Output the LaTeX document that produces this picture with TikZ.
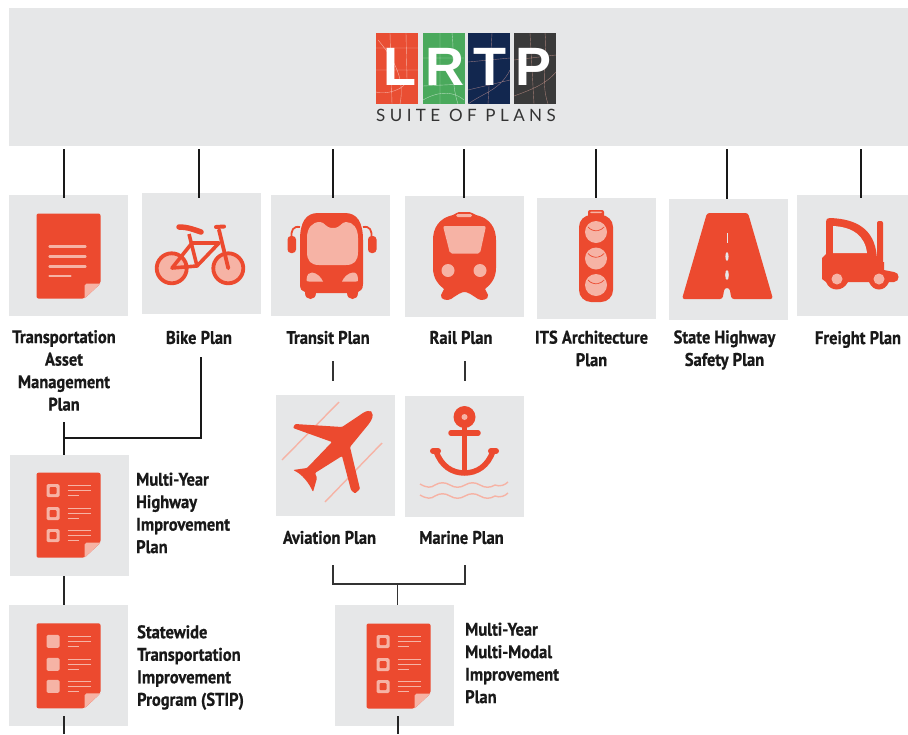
\documentclass[tikz,border=0pt]{standalone}
\usepackage{fontspec}
\setmainfont{Liberation Sans}
\newfontfamily\labfont[FakeStretch=0.9,FakeBold=0.7]{PT Sans Bold}
\newfontfamily\suitefont[LetterSpace=26]{Lato}
\usetikzlibrary{calc}
\definecolor{tilegray}{HTML}{E6E7E8}
\definecolor{iconred}{HTML}{EC4A2F}
\definecolor{iconpink}{HTML}{F6B3A5}
\definecolor{logored}{HTML}{E94E33}
\definecolor{logogreen}{HTML}{4AA95C}
\definecolor{logonavy}{HTML}{12274F}
\definecolor{logodark}{HTML}{3A3A3A}
\tikzset{
  tile/.style={fill=tilegray,draw=none,inner sep=0pt,outer sep=0pt,minimum width=119pt,minimum height=121pt,anchor=north west},
  lab/.style={font=\labfont\fontsize{18.3}{22.5}\selectfont,inner sep=0pt,text=black!90},
  labc/.style={lab,align=center},
  labl/.style={lab,align=left,anchor=west},
  heavy/.style={draw=black!90,line width=2.8pt},
  medium/.style={draw=black!85,line width=2pt},
  light/.style={draw=black!80,line width=1.6pt},
  logobox/.style={inner sep=0pt,outer sep=0pt,minimum width=42pt,minimum height=71.5pt,anchor=north west},
  logoletter/.style={font=\bfseries\fontsize{54}{54}\selectfont,text=white,inner sep=0pt},
  mapline/.style={line width=0.4pt,opacity=0.55},
  red/.style={fill=iconred,draw=none},
  pink/.style={fill=iconpink,draw=none},
  pinkline/.style={draw=iconpink,line width=1.4pt},
}
% document page outline with folded corner, origin at top-left
\newcommand{\pagebase}{%
  \fill[iconred,rounded corners=2pt] (0,0) -- (64,0) -- (64,70) -- (48,85) -- (0,85) -- cycle;
  \fill[iconpink] (64,70) -- (48,85) -- (48,72) -- (50,70) -- cycle;
}
\newcommand{\textpage}[2]{\begin{scope}[shift={(#1,#2)}]
  \pagebase
  \foreach \yy/\xx in {33/49,43/49,53/49,62.5/34}
    \draw[iconpink,line width=2.4pt,line cap=round] (13,\yy) -- (\xx,\yy);
\end{scope}}
% list lines: three rows
\newcommand{\listlines}[1]{%
  \draw[iconpink,line width=1.5pt] (31,#1-5) -- (54,#1-5) (31,#1) -- (54,#1);
  \draw[iconpink,line width=1.5pt] (31,#1+5) -- (42,#1+5);
}
\newcommand{\listpage}[3]{\begin{scope}[shift={(#1,#2)}]
  \pagebase
  \foreach \yy in {18,41,63}{
    \fill[iconpink,rounded corners=1.5pt] (10,\yy-6.5) rectangle (23,\yy+6.5);
    \ifnum#3=1 \fill[iconred,rounded corners=1pt] (13,\yy-3.5) rectangle (20,\yy+3.5);\fi
    \listlines{\yy}
  }
\end{scope}}
\begin{document}
\begin{tikzpicture}[x=1pt,y=-1pt]
\useasboundingbox (0,0) rectangle (908,734);
\fill[white] (0,0) rectangle (908,734);

% banner and tiles
\node[tile,minimum width=899pt,minimum height=138pt] (banner) at (9,8) {};
\node[tile] (tam) at (8.5,195) {};
\node[tile] (bike) at (142,193) {};
\node[tile] (transit) at (271,195) {};
\node[tile] (rail) at (404.5,196) {};
\node[tile] (its) at (537,197.5) {};
\node[tile] (shsp) at (668.5,198.5) {};
\node[tile,minimum width=111pt] (freight) at (797,195) {};
\node[tile] (aviation) at (276,395) {};
\node[tile] (marine) at (405,396) {};
\node[tile] (myhip) at (10,455) {};
\node[tile] (stip) at (8.5,605) {};
\node[tile] (mmip) at (335,604.5) {};

% logo
\node[logobox,fill=logored] (lbox) at (376,32.8) {};
\node[logobox,fill=logogreen] (rbox) at (422.5,32.8) {};
\node[logobox,fill=logonavy] (tbox) at (468,32.8) {};
\node[logobox,fill=logodark] (pbox) at (513.5,32.8) {};
\begin{scope}
\draw[mapline,white] (376,48) -- (418,48) (376,70) -- (418,70) (390,33) -- (392,104) (378,40) .. controls (395,60) and (405,80) .. (400,104) (406,33) -- (407,80) .. controls (405,90) and (385,95) .. (376,92);
\draw[mapline,white] (423,58) -- (464,58) (423,86) -- (464,84) (440,33) -- (440,104) (423,100) .. controls (440,90) and (455,92) .. (464,100) (452,33) .. controls (455,60) and (450,80) .. (458,104);
\draw[mapline,iconpink] (468,62) -- (510,58) (468,90) -- (510,80) (492,33) -- (488,104) (468,104) .. controls (485,92) and (500,90) .. (510,70);
\draw[mapline,iconpink] (514,60) -- (556,55) (530,33) -- (534,104) (514,96) .. controls (530,90) and (545,85) .. (556,72) (545,33) .. controls (548,60) and (540,80) .. (548,104);
\end{scope}
\node[logoletter] (lletter) at (399.5,66.5) {L};
\node[logoletter] (rletter) at (445,66.5) {R};
\node[logoletter] (tletter) at (490,66.5) {T};
\node[logoletter] (pletter) at (534,66.5) {P};
\node[inner sep=0pt,text=black!80,font=\suitefont\fontsize{17}{17}\selectfont] (suite) at (466,115.5) {SUITE OF PLANS};

% connectors from banner
\coordinate (c1) at (64,198);
\coordinate (c2) at (199,198);
\coordinate (c3) at (333,198);
\coordinate (c4) at (464,198);
\coordinate (c5) at (596,198);
\coordinate (c6) at (727,198.5);
\coordinate (c7) at (861,198);
\foreach \cc in {c1,c2,c3,c4,c5,c6,c7}
  \draw[heavy] ($(banner.south -| \cc)+(0,3)$) -- (\cc);

% labels
\node[labc] (ltam) at (64,370.5) {Transportation\\Asset\\Management\\Plan};
\node[labc] (lbike) at (199,337.5) {Bike Plan};
\node[labc] (ltransit) at (328,337.5) {Transit Plan};
\node[labc] (lrail) at (461,337.5) {Rail Plan};
\node[labc] (lits) at (591.5,348.5) {ITS Architecture\\Plan};
\node[labc] (lshsp) at (724.5,350) {State Highway\\Safety Plan};
\node[labc] (lfreight) at (858,339.5) {Freight Plan};
\node[labc] (laviation) at (329.5,537.5) {Aviation Plan};
\node[labc] (lmarine) at (461.5,537.5) {Marine Plan};
\node[labl] (lmyhip) at (136,513) {Multi-Year\\Highway\\Improvement\\Plan};
\node[labl] (lstip) at (137,667.5) {Statewide\\Transportation\\Improvement\\Program (STIP)};
\node[labl] (lmmip) at (465,663) {Multi-Year\\Multi-Modal\\Improvement\\Plan};

% other connectors
\coordinate (bikedown) at (201,357);
\coordinate (tamdown) at (64,422);
\draw[heavy] (bikedown) -- (bikedown |- 0,438) -- (tamdown |- 0,438);
\draw[heavy] (tamdown) -- (myhip.north -| tamdown);
\draw[medium] (myhip.south -| tamdown) -- (stip.north -| tamdown);
\coordinate (stipout) at (64,716);
\draw[medium] (stipout) -- (64,734);
\coordinate (tr) at (333,361);
\coordinate (ra) at (465,361);
\draw[light] (tr) -- ($(tr)+(0,20)$);
\draw[light] (ra) -- ($(ra)+(0,20)$);
\coordinate (avout) at (333,565);
\coordinate (maout) at (465,565);
\coordinate (mmin) at (397.5,584);
\draw[light] (avout) -- (avout |- mmin) -- (maout |- mmin) -- (maout);
\draw[light] (mmin) -- (mmip.north -| mmin);
\coordinate (mmout) at (397.5,716);
\draw[medium] (mmout) -- (397.5,734);

% document icons
\textpage{36.5}{213.5}
\listpage{36.5}{472.7}{1}
\listpage{36.5}{623.3}{0}
\listpage{366.5}{623.5}{1}

% bike
\fill[iconpink] (171.7,268.3) circle (15.5pt);
\fill[iconpink] (228.3,268.3) circle (15.5pt);
\draw[iconred,line width=3.8pt] (171.7,268.3) circle (15pt) (228.3,268.3) circle (15pt);
\draw[iconred,line width=3.6pt,line join=round] (172,268) -- (197,266) -- (219,243) -- (192,243) -- cycle;
\draw[iconred,line width=3.6pt] (189,234) -- (197,266);
\draw[iconred,line width=3.8pt,line cap=round] (219,230) -- (228.3,268.3);
\draw[iconred,line width=5.5pt,line cap=round] (179,227) .. controls (188,227) and (195,230) .. (201,232);
\draw[iconred,line width=4pt,line cap=round] (216,227) -- (224,226.5);

% bus
\fill[red] (300,240) .. controls (300,222) and (306,213) .. (318,213) -- (345,213) .. controls (357,213) and (363,222) .. (363,240) -- (363,284) .. controls (363,290) and (360,291) .. (358,292) -- (358,293) .. controls (358,301) and (347,301) .. (347,293) -- (316,293) .. controls (316,301) and (305,301) .. (305,293) -- (305,292) .. controls (302,291) and (300,290) .. (300,284) -- cycle;
\fill[pink] (307,238) .. controls (307,228) and (312,222) .. (320,222) .. controls (325,222) and (325,228) .. (333,228) .. controls (341,228) and (341,222) .. (346,222) .. controls (353,222) and (358,228) .. (358,238) -- (358,252) .. controls (358,261) and (354,265) .. (346,265) -- (319,265) .. controls (311,265) and (307,261) .. (307,252) -- cycle;
\fill[pink] (306.5,280) .. controls (307,274) and (309,272.5) .. (312,272.5) .. controls (317,273) and (321,277) .. (323,281.5) -- (309,281.5) .. controls (307,281.5) and (306.5,281) .. (306.5,280) -- cycle;
\fill[pink] (358,280) .. controls (358,274) and (356,272.5) .. (353,272.5) .. controls (348,273) and (344,277) .. (342,281.5) -- (356,281.5) .. controls (358,281.5) and (358,281) .. (358,280) -- cycle;
\draw[iconred,line width=1.8pt] (300,227) .. controls (293,226) and (291,230) .. (291.5,238);
\draw[iconred,line width=1.8pt] (363,227) .. controls (370,226) and (372,230) .. (371.5,238);
\fill[iconred,rounded corners=3.5pt] (287.5,236) rectangle (296,253);
\fill[iconred,rounded corners=3.5pt] (368,236) rectangle (376.5,253);

% train
\fill[red] (459,212) -- (468,212) .. controls (472,212) and (473,214) .. (476,215) .. controls (490,218) and (496,228) .. (496,240) -- (496,268) .. controls (496,279) and (490,285) .. (485,289) -- (488,295) .. controls (489,300) and (481,301) .. (478,299) .. controls (472,295) and (468,292) .. (464.5,292) .. controls (461,292) and (457,295) .. (451,299) .. controls (448,301) and (440,300) .. (441,295) -- (444,289) .. controls (439,285) and (433,279) .. (433,268) -- (433,240) .. controls (433,228) and (439,218) .. (453,215) .. controls (456,214) and (457,212) .. (459,212) -- cycle;
\fill[pink,rounded corners=2pt] (443,226) -- (486,226) -- (480,253.5) -- (450,253.5) -- cycle;
\fill[pink,rounded corners=1.5pt] (456,214) rectangle (472,217);
\fill[pink] (448,270.5) circle (6.5pt) (480,270.5) circle (6.5pt);

% traffic light
\fill[iconred,rounded corners=12pt] (579,215) rectangle (613,302);
\fill[iconred,rounded corners=2pt] (588,210) rectangle (604,218);
\fill[iconpink,rounded corners=1pt] (590,211.5) rectangle (602,213);
\foreach \yy in {232,258.5,285}{
  \fill[iconpink] (596,\yy) circle (11pt);
  \draw[iconred,line width=0.7pt] (588,\yy-5) arc (220:320:10.5pt);
}

% road
\fill[red,rounded corners=2.5pt] (707,213) -- (748,213) -- (773,299) -- (731.5,299) -- (729.5,288) -- (724.5,288) -- (722.5,299) -- (682,299) -- cycle;
\draw[tilegray,line width=1pt] (727,233) -- (727,243);
\fill[tilegray] (727,256.5) ellipse (1.6pt and 4.5pt) (727,275) ellipse (1.8pt and 5pt);

% forklift
\fill[red] (826,222) .. controls (826,219) and (827,218) .. (830,218) .. controls (860,219) and (877,232) .. (877,262) -- (884,262) -- (884,270) -- (894,272) .. controls (900,272) and (900,282) .. (894,282) -- (889,282) .. controls (885,292) and (873,292) .. (869,282) -- (848,282) .. controls (843,292) and (830,292) .. (826,282) -- (822,279) -- (822,258) -- (826,254) -- cycle;
\fill[iconred,rounded corners=2pt] (877,221) rectangle (883,265);
\fill[tilegray] (833,226) .. controls (853,227) and (865,236) .. (867,253) -- (833,253) -- cycle;
\fill[iconpink] (837,279) circle (5.5pt) (879,279) circle (5.5pt);

% plane
\draw[pinkline] (282,460) -- (339,402) (325,502) -- (382,443);
\fill[red,rounded corners=1pt] (371,412) .. controls (374,415) and (372,420) .. (368,425) -- (350,447) -- (360,489) -- (355,493.5) -- (351,490) -- (342,456) -- (315,473) -- (317,478) -- (313,492) .. controls (309,483) and (302,474) .. (293,470) -- (307,468) -- (332,442) -- (293,428) -- (295,424) -- (342,427) -- (360,415) .. controls (364,412) and (368,410) .. (371,412) -- cycle;

% anchor
\fill[iconred] (464.5,417) circle (11pt);
\fill[iconpink] (464.5,417) circle (3pt);
\draw[iconred,line width=5pt] (464.5,425) -- (464.5,475);
\draw[iconred,line width=5.5pt,line cap=round] (451,433) -- (478,433);
\draw[iconred,line width=6pt,line cap=round] (433,451) -- (438,451) (491,451) -- (496,451);
\draw[iconred,line width=5.5pt] (436,451) .. controls (441,466) and (452,473) .. (464.5,473) .. controls (477,473) and (488,466) .. (493,451);
\foreach \yy in {485,496}
  \draw[pinkline] (420,\yy-1) .. controls (427,\yy+3) and (431,\yy+3) .. (435,\yy) .. controls (440,\yy-3) and (445,\yy-3) .. (450,\yy) .. controls (455,\yy+3) and (460,\yy+3) .. (465,\yy) .. controls (470,\yy-3) and (475,\yy-3) .. (480,\yy) .. controls (485,\yy+3) and (490,\yy+3) .. (495,\yy) .. controls (500,\yy+2) and (505,\yy) .. (508,\yy-3);
\end{tikzpicture}
\end{document}
